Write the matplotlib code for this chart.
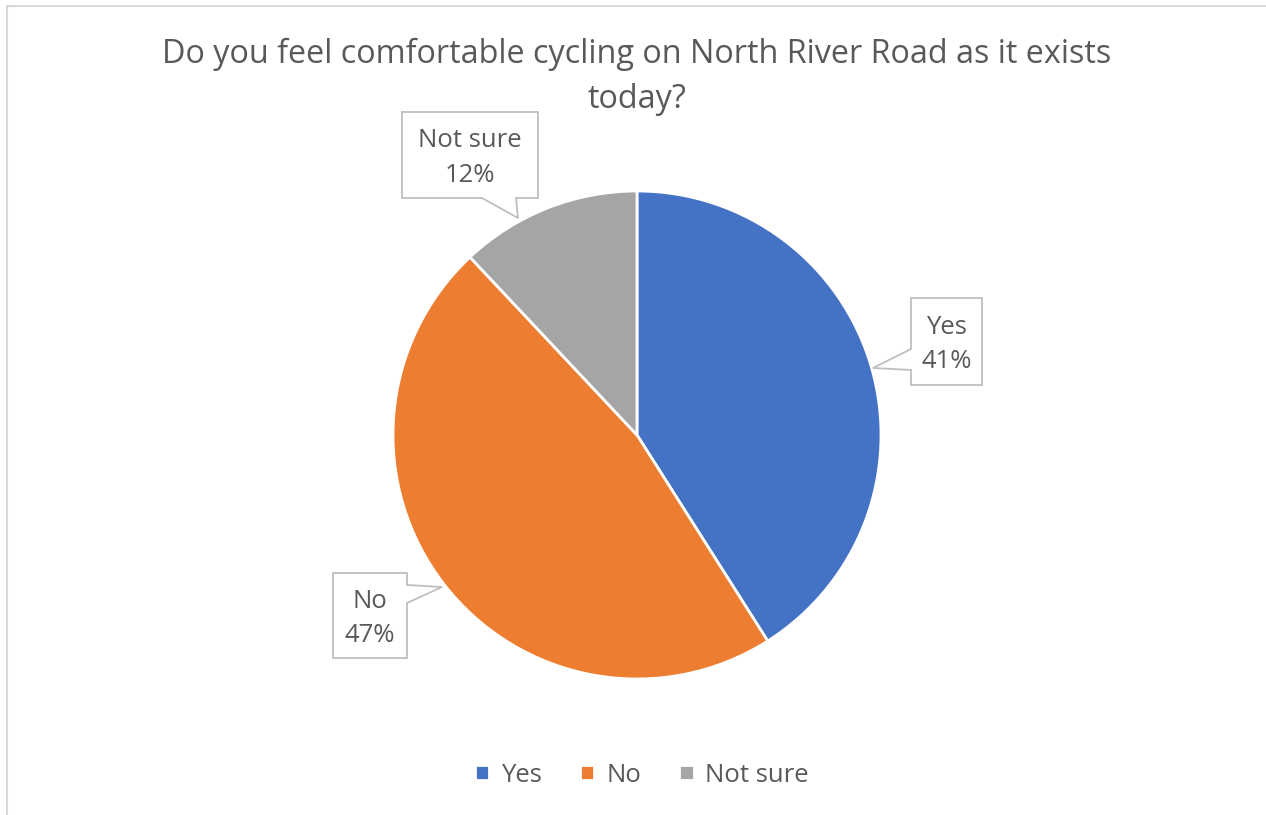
import numpy as np
import matplotlib.pyplot as plt
from matplotlib.patches import Polygon
from matplotlib.lines import Line2D

# survey answers
labels = ['Yes', 'No', 'Not sure']
shares = [41, 47, 12]
colors = ['#4472C4', '#ED7D31', '#A5A5A5']
title = 'Do you feel comfortable cycling on North River Road as it exists\ntoday?'

W, H = 1266, 815
fig = plt.figure(figsize=(W / 100, H / 100), dpi=100)
ax = fig.add_axes([0, 0, 1, 1])

font = 'Open Sans'
grey = '#595959'

cx, cy, r = 637, H - 435, 244
wedges, _ = ax.pie(shares, colors=colors, startangle=90, counterclock=False,
                   center=(cx, cy), radius=r, frame=True,
                   wedgeprops=dict(edgecolor='white', linewidth=2))
ax.set_xlim(0, W)
ax.set_ylim(0, H)
ax.set_aspect('equal')
ax.axis('off')

# light chart frame (top and left edges only visible)
ax.add_line(Line2D([6.5, W], [H - 6, H - 6], color='#D9D9D9', lw=1.5))
ax.add_line(Line2D([6.5, 6.5], [0, H - 6], color='#D9D9D9', lw=1.5))

ax.text(637, H - 77, title, ha='center', va='center', fontsize=23.3,
        color=grey, family=font, linespacing=1.5)

# callout boxes: (left, right, top, bottom) in image pixels, pointer side, pointer base, tip
callouts = [
    dict(box=(911, 982, 298, 385), side='left', base=(349, 370), tip=(873, 368)),
    dict(box=(333, 407, 573, 658), side='right', base=(585, 603), tip=(442, 587)),
    dict(box=(402, 538, 112, 198), side='bottom', base=(482, 516), tip=(518, 218)),
]

for lab, val, co in zip(labels, shares, callouts):
    l, rr, t, b = co['box']
    tx, ty = co['tip']
    b0, b1 = co['base']
    if co['side'] == 'left':
        pts = [(l, t), (rr, t), (rr, b), (l, b), (l, b1), (tx, ty), (l, b0)]
    elif co['side'] == 'right':
        pts = [(l, t), (rr, t), (rr, b0), (tx, ty), (rr, b1), (rr, b), (l, b)]
    else:
        pts = [(l, t), (rr, t), (rr, b), (b1, b), (tx, ty), (b0, b), (l, b)]
    pts = [(x, H - y) for x, y in pts]
    ax.add_patch(Polygon(pts, closed=True, facecolor='white',
                         edgecolor='#BFBFBF', lw=1.3, zorder=5))
    ax.text((l + rr) / 2, H - (t + b) / 2 - 3, f'{lab}\n{val}%', ha='center',
            va='center', fontsize=18.5, color=grey, family=font,
            linespacing=1.5, zorder=6)

leg = ax.legend(wedges, labels, loc='center', bbox_to_anchor=(642 / W, 1 - 775 / H),
                ncol=3, frameon=False, handlelength=0.55, handleheight=0.55,
                handletextpad=0.45, columnspacing=1.5,
                prop=dict(family=font, size=18.5))
for txt in leg.get_texts():
    txt.set_color(grey)

fig.savefig('out.png', dpi=100)
